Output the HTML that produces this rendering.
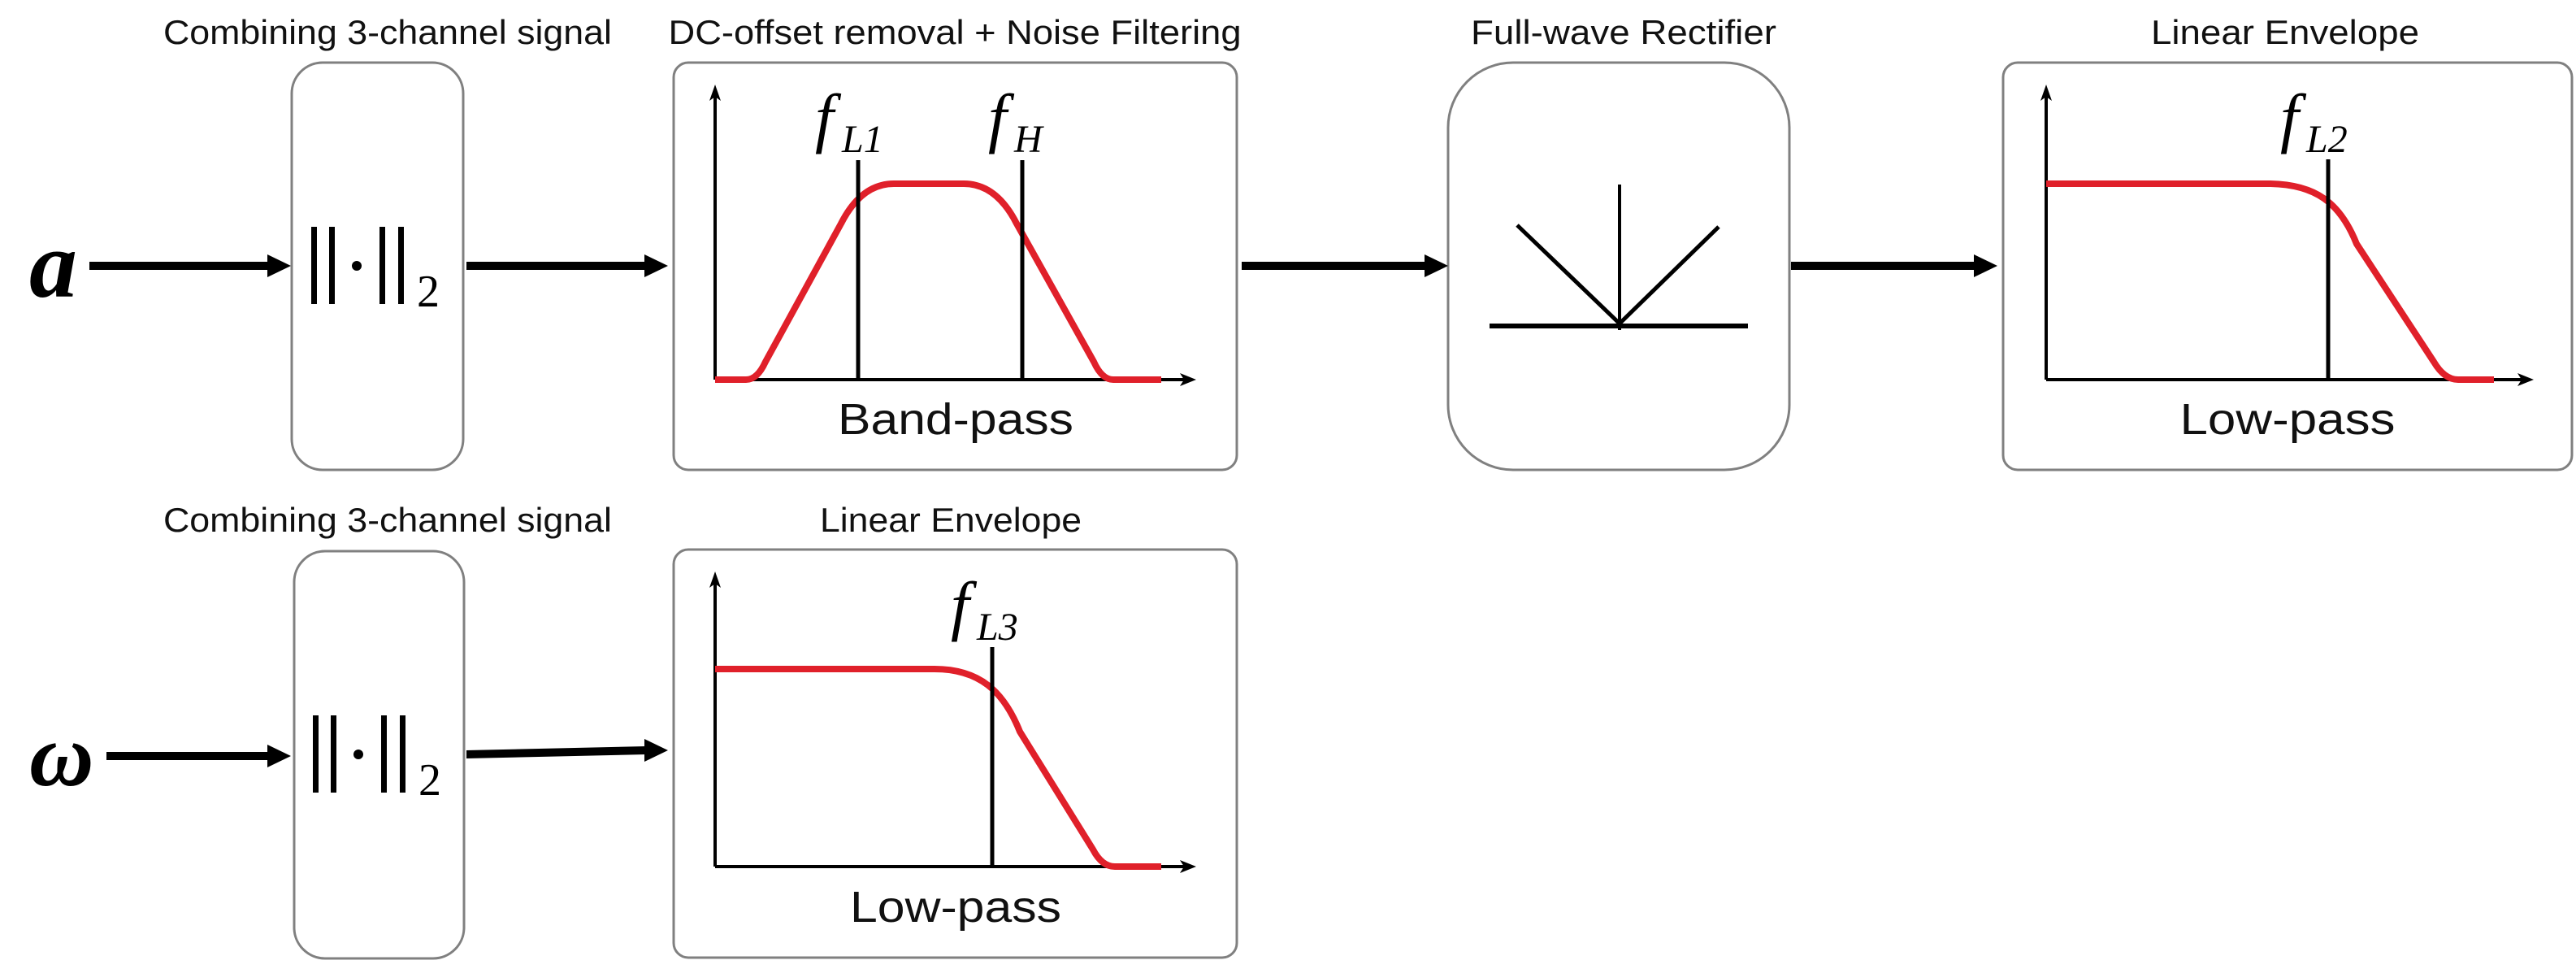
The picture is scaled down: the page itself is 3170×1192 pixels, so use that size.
<!DOCTYPE html>
<html><head><meta charset="utf-8"><style>html,body{margin:0;padding:0;background:#fff}svg{display:block}</style></head>
<body>
<svg width="3170" height="1192" viewBox="0 0 3170 1192" xmlns="http://www.w3.org/2000/svg">
<g font-family="Liberation Sans, sans-serif" font-size="42" fill="#111" text-anchor="middle">
<text x="477" y="54" textLength="552" lengthAdjust="spacingAndGlyphs">Combining 3-channel signal</text>
<text x="1175" y="54" textLength="705" lengthAdjust="spacingAndGlyphs">DC-offset removal + Noise Filtering</text>
<text x="1998" y="54" textLength="376" lengthAdjust="spacingAndGlyphs">Full-wave Rectifier</text>
<text x="2812" y="54" textLength="330" lengthAdjust="spacingAndGlyphs">Linear Envelope</text>
<text x="477" y="654" textLength="552" lengthAdjust="spacingAndGlyphs">Combining 3-channel signal</text>
<text x="1170" y="654" textLength="322" lengthAdjust="spacingAndGlyphs">Linear Envelope</text>
</g>
<g fill="none" stroke="#808080" stroke-width="3">
<rect x="359" y="77" width="211" height="501" rx="38"/>
<rect x="829" y="77" width="693" height="501" rx="18"/>
<rect x="1782" y="77" width="420" height="501" rx="80"/>
<rect x="2465" y="77" width="700" height="501" rx="18"/>
<rect x="362" y="678" width="209" height="501" rx="38"/>
<rect x="829" y="676" width="693" height="502" rx="18"/>
</g>
<text x="36" y="365" font-family="Liberation Serif, serif" font-style="italic" font-weight="bold" font-size="118" fill="#000">a</text>
<text x="36" y="966" font-family="Liberation Serif, serif" font-style="italic" font-weight="bold" font-size="110" fill="#000">ω</text>
<g fill="#000">
<rect x="110" y="322" width="222" height="10"/><polygon points="329,313 358,327 329,341"/>
<rect x="574" y="322" width="222" height="10"/><polygon points="793,313 822,327 793,341"/>
<rect x="1528" y="322" width="228" height="10"/><polygon points="1753,313 1782,327 1753,341"/>
<rect x="2204" y="322" width="228" height="10"/><polygon points="2429,313 2458,327 2429,341"/>
<rect x="131" y="925" width="200" height="10"/><polygon points="329,916 358,930 329,944"/>
<polygon points="574,923 796,918 796,928 574,933"/><polygon points="793,909 822,923 793,937"/>
</g>
<g fill="#000">
<rect x="383" y="279" width="7" height="95"/><rect x="405" y="279" width="7" height="95"/>
<circle cx="439" cy="327" r="6"/>
<rect x="467" y="279" width="7" height="95"/><rect x="490" y="279" width="7" height="95"/>
<rect x="385" y="880" width="7" height="95"/><rect x="407" y="880" width="7" height="95"/>
<circle cx="441" cy="928" r="6"/>
<rect x="469" y="880" width="7" height="95"/><rect x="492" y="880" width="7" height="95"/>
</g>
<g font-family="Liberation Serif, serif" font-size="56" fill="#000">
<text x="513" y="377">2</text>
<text x="515" y="978">2</text>
</g>
<g stroke="#000" fill="none" stroke-width="4">
<line x1="880" y1="467" x2="880" y2="115"/>
<line x1="880" y1="467" x2="1460" y2="467"/>
<line x1="2518" y1="467" x2="2518" y2="115"/>
<line x1="2518" y1="467" x2="3105" y2="467"/>
<line x1="880" y1="1066" x2="880" y2="713"/>
<line x1="880" y1="1066" x2="1460" y2="1066"/>
</g>
<g fill="#000">
<polygon points="880,104 873,124 880,119 887,124"/>
<polygon points="1472,467 1452,459 1457,467 1452,475"/>
<polygon points="2518,104 2511,124 2518,119 2525,124"/>
<polygon points="3118,467 3098,459 3103,467 3098,475"/>
<polygon points="880,703 873,723 880,718 887,723"/>
<polygon points="1472,1066 1452,1058 1457,1066 1452,1074"/>
</g>
<g stroke="#e0202a" stroke-width="8" fill="none" stroke-linejoin="round">
<path d="M880,467 L918,467 Q932,467 942,445 L1035,275 Q1060,226 1100,226 L1186,226 Q1226,226 1251,275 L1346,445 Q1356,467 1370,467 L1429,467"/>
<path d="M2518,226 L2790,226 C2850,226 2880,250 2900,300 L2995,445 Q3008,467 3025,467 L3069,467"/>
<path d="M880,823 L1150,823 C1205,823 1235,850 1255,900 L1345,1045 Q1356,1066 1372,1066 L1429,1066"/>
</g>
<g stroke="#000" stroke-width="5">
<line x1="1056" y1="197" x2="1056" y2="467"/>
<line x1="1258" y1="197" x2="1258" y2="467"/>
<line x1="2865" y1="196" x2="2865" y2="467"/>
<line x1="1221" y1="796" x2="1221" y2="1066"/>
</g>
<g font-family="Liberation Serif, serif" font-style="italic" fill="#000">
<text x="1003" y="172" font-size="82">f</text><text x="1036" y="187" font-size="48">L1</text>
<text x="1216" y="172" font-size="82">f</text><text x="1248" y="187" font-size="48">H</text>
<text x="2806" y="172" font-size="82">f</text><text x="2838" y="187" font-size="48">L2</text>
<text x="1170" y="772" font-size="82">f</text><text x="1202" y="787" font-size="48">L3</text>
</g>
<g stroke="#000" fill="none">
<line x1="1993" y1="227" x2="1993" y2="406" stroke-width="4"/>
<line x1="1833" y1="401" x2="2151" y2="401" stroke-width="6"/>
<polyline points="1867,277 1993,398 2115,279" stroke-width="5"/>
</g>
<g font-family="Liberation Sans, sans-serif" font-size="54" fill="#111" text-anchor="middle">
<text x="1176" y="534" textLength="290" lengthAdjust="spacingAndGlyphs">Band-pass</text>
<text x="2815" y="534" textLength="265" lengthAdjust="spacingAndGlyphs">Low-pass</text>
<text x="1176" y="1134" textLength="260" lengthAdjust="spacingAndGlyphs">Low-pass</text>
</g>
</svg>
</body></html>
